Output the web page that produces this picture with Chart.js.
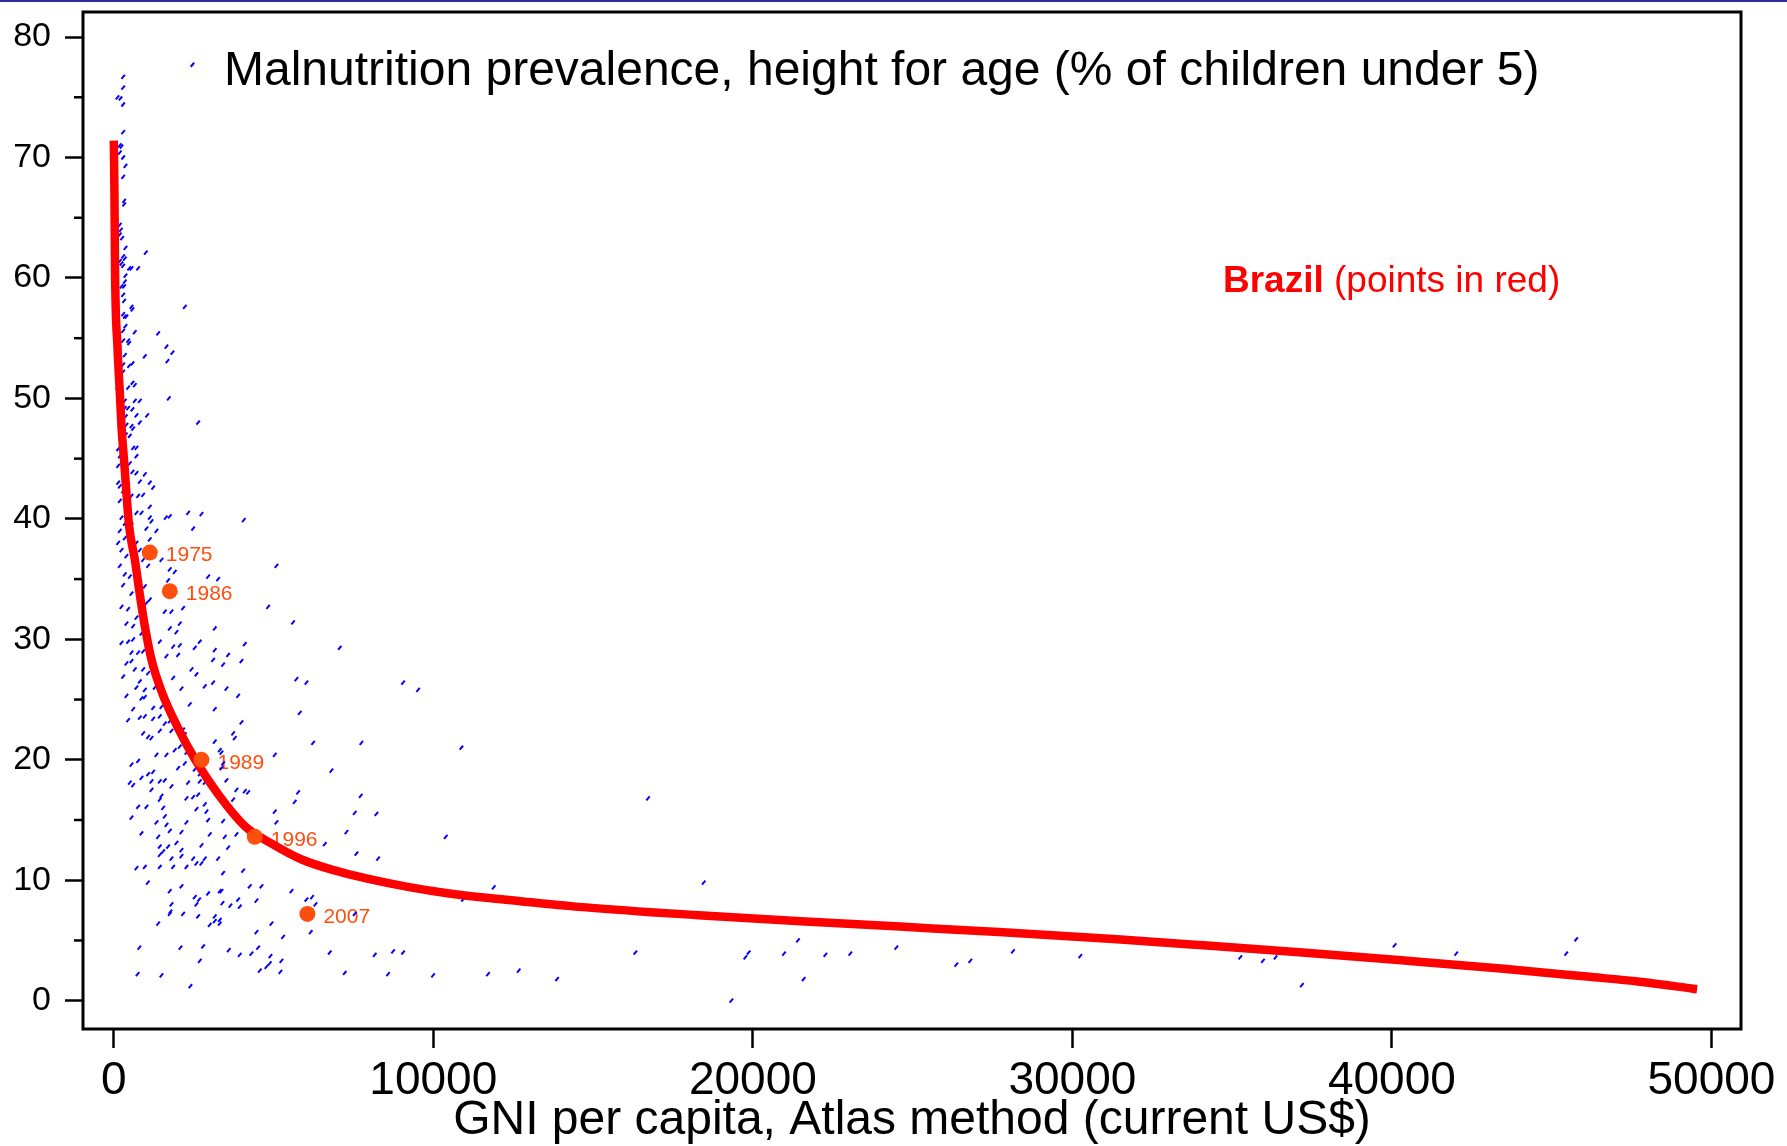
<!DOCTYPE html>
<html>
<head>
<meta charset="utf-8">
<script src="https://cdn.jsdelivr.net/npm/chart.js@4.4.1/dist/chart.umd.min.js"></script>
<style>
    html, body { margin: 0; padding: 0; background: #fff; }
    #wrap { position: relative; width: 1787px; height: 1146px; }
    #topline { position: absolute; left: 0; top: 0; width: 1787px; height: 2px; background: #2b2b9b; }
    canvas { display: block; }
</style>
</head>
<body>
<div id="wrap">
    <div id="topline"></div>
    <canvas id="grafico" width="1787" height="1146"></canvas>
</div>
<script>
// Eixos
const xTicks = [0, 10000, 20000, 30000, 40000, 50000];
const yTicks = [0, 10, 20, 30, 40, 50, 60, 70, 80];
const yMinorTicks = [5, 15, 25, 35, 45, 55, 65, 75];

// Pontos do Brasil (em vermelho)
const brazilYears = ['1975', '1986', '1989', '1996', '2007'];
const brazilGni = [1126, 1752, 2743, 4412, 6059];
const brazilStunting = [37.2, 34.0, 20.0, 13.6, 7.2];

// Curva ajustada
const fitGni = [0, 20, 40, 115, 190, 240, 320, 480, 660, 810, 970, 1180, 1520, 1980, 2550, 3250,
    4100, 4900, 5900, 7000, 7900, 9200, 10500, 12200, 14300, 16800, 18300, 21500, 24600, 27700,
    31400, 34100, 37200, 40300, 43500, 46100, 47750, 49550];
const fitStunting = [71.4, 67.1, 60.4, 54.3, 50.4, 47.7, 44.9, 39.4, 36.6, 33.8, 31.1, 28.3, 25.5, 22.8, 20.0, 17.2,
    14.5, 13.1, 11.7, 10.75, 10.15, 9.45, 8.9, 8.4, 7.85, 7.35, 7.1, 6.6, 6.15, 5.7,
    5.1, 4.6, 4.0, 3.35, 2.65, 2.0, 1.58, 0.95];

// Países (GNI, % desnutrição) - pontos azuis
const countryPoints = [
    [2461,77.7],[292,76.7],[292,75.8],[115,75.0],[209,74.9],[292,74.4],[292,72.1],[188,71.0],[240,70.9],[188,70.4],
    [292,70.0],[365,69.3],[292,68.4],[323,66.4],[323,66.1],[188,64.4],[219,64.0],[188,63.6],[261,63.3],[365,62.5],
    [1001,62.1],[292,61.8],[344,61.6],[188,61.4],[240,61.2],[292,61.0],[480,60.8],[553,60.8],[761,60.8],[365,60.2],
    [344,59.7],[240,59.3],[323,59.3],[292,58.6],[323,58.1],[553,57.6],[584,57.4],[2222,57.6],[292,57.0],[344,56.8],
    [396,56.8],[365,56.0],[292,55.6],[657,55.5],[1387,55.4],[292,54.8],[448,54.8],[480,54.6],[1648,54.3],[1836,53.8],
    [970,53.5],[344,53.6],[1679,53.1],[292,52.8],[480,52.7],[584,52.9],[292,52.2],[584,51.3],[657,51.1],[448,50.9],
    [115,50.9],[1721,50.0],[657,49.8],[814,49.8],[344,49.8],[344,49.2],[448,49.2],[584,49.1],[709,48.6],[1043,48.6],
    [375,48.5],[814,48.0],[396,47.8],[553,47.7],[2639,48.0],[605,47.5],[375,47.0],[501,46.9],[605,45.9],[709,45.9],
    [136,45.8],[709,45.2],[188,45.2],
    [501,44.6],[344,44.5],[136,44.4],[584,43.9],[709,43.8],[970,43.7],[1126,43.0],[814,43.1],[1231,42.6],
    [136,43.0],[188,42.7],[448,42.8],[292,42.3],[553,41.9],[761,41.9],[188,41.5],[918,42.0],[1126,41.0],
    [709,40.5],[866,40.5],[1126,40.1],[240,40.1],[344,39.6],[553,39.5],[1022,39.2],[1335,39.0],[1179,39.8],[1752,40.2],
    [2326,40.5],[2743,40.4],[2482,39.2],[4068,39.9],[1627,40.1],
    [188,39.0],[344,38.4],[553,38.6],[709,38.0],[1126,38.3],[136,38.0],[240,37.4],[396,36.9],
    [814,37.4],[605,36.9],[918,36.6],[1074,36.1],[1491,36.6],[188,36.1],[1752,35.8],[1909,35.6],[5090,36.1],
    [344,35.4],[501,35.2],[709,35.4],[292,34.5],[970,34.4],[1700,34.9],[2952,35.2],[3265,35.0],
    [553,33.8],[814,33.6],[1126,33.3],[1022,33.0],[240,32.7],[448,32.5],[1596,32.3],[1804,32.3],[2169,32.6],[4829,32.7],[5611,31.4],
    [709,31.8],[396,31.3],[605,31.1],[866,30.5],[1752,30.9],[1961,30.6],[2065,31.3],[3160,30.9],
    [240,29.7],[448,29.8],[605,30.0],[1439,29.8],[1857,29.4],[2065,29.5],[2691,29.8],[2534,29.3],[4099,29.6],[7072,29.3],
    [553,28.9],[761,28.9],[918,29.0],[1648,28.6],[2013,28.7],[3160,29.1],[3577,28.7],[3108,28.3],[3995,28.2],
    [396,28.0],[553,28.2],[657,27.5],[918,27.5],[292,26.9],[1074,27.2],[2430,27.5],[2587,27.1],[3421,27.9],
    [814,26.5],[709,26.0],[970,25.8],[1283,26.0],[1857,26.8],[2117,25.9],[2847,26.1],[3108,26.4],[3525,25.9],[5715,26.7],[6029,26.4],
    [396,25.3],[866,25.1],[970,25.2],[1491,25.4],[1231,24.3],[605,24.2],[1491,24.4],[2378,24.6],[3160,24.2],[3890,25.3],
    [448,23.3],[814,23.5],[970,23.6],[1231,23.4],[1439,23.6],[1596,23.0],[1752,23.2],[3995,23.1],[5820,23.9],
    [918,22.2],[1074,21.9],[1179,21.8],[1439,22.4],[1804,22.4],[2169,22.5],[2222,22.1],[3734,22.2],[3786,21.8],[3160,21.5],
    [2065,21.1],[1909,20.8],[2274,20.6],[3317,20.8],[3369,20.6],[5038,20.4],[6237,21.4],[7749,21.4],
    [553,19.6],[761,19.9],[1074,18.8],[1231,19.0],[1335,20.4],[1648,20.4],[2013,19.3],[2222,19.7],[2534,19.2],[2691,18.8],
    [3369,19.3],[3421,19.7],[6811,19.1],
    [501,18.1],[605,17.9],[866,18.5],[1179,18.2],[1439,18.2],[1596,18.3],[1804,17.8],[1179,17.5],[2326,18.1],[2691,18.2],
    [2847,18.1],[3525,18.3],[3838,17.5],[4099,17.4],[4203,17.3],[5768,17.3],
    [1439,16.7],[1491,17.0],[2274,16.8],[2482,16.9],[2639,17.1],[2847,16.3],[3734,16.7],[5663,16.5],
    [761,16.1],[1022,16.1],[1544,16.0],[2587,15.9],[2900,15.7],[5038,15.7],[7541,15.6],[8219,15.5],
    [553,15.2],[1335,14.8],[1596,15.3],[1648,14.6],[2274,14.8],[2952,15.0],[3421,14.9],[5090,14.8],
    [866,13.9],[1387,13.6],[1752,14.1],[2117,14.0],[3004,13.8],[3473,13.6],[3838,13.8],[7280,14.0],
    [1439,12.8],[1700,12.8],[1961,13.1],[1544,12.4],[2117,12.5],[2743,12.9],[3577,12.7],[6602,13.0],[7593,12.2],
    [1439,12.1],[1804,11.8],[2117,12.0],[2482,11.8],[2743,11.4],[2847,11.8],[3265,11.8],[8271,11.8],
    [709,11.0],[970,11.1],[1439,11.1],[1857,11.1],[2274,11.1],[2587,11.4],[3421,10.6],[4047,10.8],
    [1752,9.1],[2117,9.5],[2534,8.6],[2670,8.4],[2586,8.0],[2951,8.9],[3316,9.1],[3368,9.1],[3400,8.1],[3650,7.9],
    [3890,8.4],[3942,7.8],[4464,8.3],[4255,9.5],[4620,9.5],[5559,9.1],[6028,8.4],[6205,8.6],[6310,8.0],[1804,8.0],
    [1773,7.4],[1752,7.2],[2169,7.2],[2638,7.0],[3160,7.0],[3160,6.6],[3316,6.7],[3316,6.4],[3003,6.3],[1387,6.4],
    [4933,6.4],[4464,5.7],[5298,5.3],[6164,5.7],[7540,7.2],[2086,4.4],[2795,4.5],[2691,3.3],[3598,4.2],[3942,3.8],
    [4307,3.9],[4516,4.4],[4902,3.7],[4881,3.1],[4777,2.8],[5246,3.3],[5215,2.4],[4568,2.5],[6758,4.0],[8166,3.8],
    [8740,4.1],[9053,4.0],[1491,2.1],[2398,1.2],[7228,2.3],[8583,2.2],[9992,2.1],[11712,2.2],[12672,2.5],[13872,1.8],
    [16323,4.0],[16719,16.8],[10388,13.6],[11890,9.4],[10930,8.4],[7728,17.0],
    [9053,26.4],[9523,25.8],[10878,21.0],[18461,9.8],
    [19327,0.0],[19765,3.6],[19869,4.0],[20975,3.9],[21413,5.0],[21590,1.8],[22268,3.8],[23050,3.9],[24490,4.4],
    [26367,3.0],[26805,3.3],[28140,4.1],[30247,3.7],
    [34106,4.5],[35254,3.6],[35963,3.3],[36359,3.6],[37183,1.3],[40083,4.6],[42012,3.9],[45454,3.9],[45767,5.1],
    [1064,9.8],[798,4.4],[745,2.2]
];

const fonte = "'Liberation Sans', Arial, Helvetica, sans-serif";
Chart.defaults.font.family = fonte;
Chart.defaults.color = '#000';

const corBrasil = '#ff4f0f';

// Textos, moldura e marcas menores do eixo y
const textosPlugin = {
    id: 'textos',
    beforeDatasetsDraw(chart) {
        const ctx = chart.ctx;
        const meta = chart.getDatasetMeta(0);
        ctx.save();
        ctx.fillStyle = corBrasil;
        ctx.font = `21px ${fonte}`;
        ctx.textBaseline = 'middle';
        meta.data.forEach((el, i) => ctx.fillText(brazilYears[i], el.x + 16, el.y + 3));
        ctx.restore();
    },
    afterDraw(chart) {
        const { ctx, chartArea: a, scales: { y } } = chart;
        ctx.save();
        ctx.strokeStyle = '#000';
        ctx.lineWidth = 3;
        ctx.strokeRect(a.left, a.top, a.right - a.left, a.bottom - a.top);

        ctx.lineWidth = 2.5;
        yMinorTicks.forEach(v => {
            const p = y.getPixelForValue(v);
            ctx.beginPath();
            ctx.moveTo(a.left - 9, p);
            ctx.lineTo(a.left, p);
            ctx.stroke();
        });

        ctx.fillStyle = '#000';
        ctx.textBaseline = 'alphabetic';
        ctx.font = `48px ${fonte}`;
        ctx.fillText('Malnutrition prevalence, height for age (% of children under 5)', 224, 85);

        ctx.fillStyle = '#ff0000';
        ctx.font = `bold 37px ${fonte}`;
        ctx.fillText('Brazil', 1223, 292);
        const w = ctx.measureText('Brazil').width;
        ctx.font = `37px ${fonte}`;
        ctx.fillText(' (points in red)', 1223 + w, 292);
        ctx.restore();
    }
};

new Chart(document.getElementById('grafico'), {
    type: 'scatter',
    data: {
        datasets: [
            {
                label: 'Brazil',
                data: brazilGni.map((g, i) => ({ x: g, y: brazilStunting[i] })),
                pointRadius: 8,
                pointBackgroundColor: corBrasil,
                pointBorderWidth: 0,
                order: 0
            },
            {
                label: 'Fit',
                data: fitGni.map((g, i) => ({ x: g, y: fitStunting[i] })),
                showLine: true,
                borderColor: '#ff0000',
                borderWidth: 8.5,
                pointRadius: 0,
                cubicInterpolationMode: 'monotone',
                order: 1
            },
            {
                label: 'Countries',
                data: countryPoints.map(p => ({ x: p[0], y: p[1] })),
                pointStyle: 'line',
                rotation: -50,
                pointRadius: 2.6,
                pointBorderWidth: 2,
                pointBorderColor: '#0000ff',
                order: 2
            }
        ]
    },
    options: {
        responsive: false,
        animation: false,
        devicePixelRatio: 1,
        layout: { padding: { left: 0, right: 46, top: 12, bottom: 0 } },
        plugins: {
            legend: { display: false },
            tooltip: { enabled: false }
        },
        scales: {
            x: {
                type: 'linear',
                min: -964,
                max: 50925,
                afterBuildTicks: s => { s.ticks = xTicks.map(v => ({ value: v })); },
                afterFit: s => { s.height = 117; s.paddingLeft = 0; s.paddingRight = 0; },
                border: { display: false },
                grid: { drawOnChartArea: false, tickLength: 19, tickWidth: 2.5, tickColor: '#000' },
                ticks: { font: { size: 46 }, color: '#000', padding: 6, maxRotation: 0, autoSkip: false, callback: v => String(v) },
                title: { display: true, text: 'GNI per capita, Atlas method (current US$)', font: { size: 48, lineHeight: 1.05 }, color: '#000', padding: { top: 0, bottom: 0 } }
            },
            y: {
                min: -2.35,
                max: 82.08,
                afterBuildTicks: s => { s.ticks = yTicks.map(v => ({ value: v })); },
                afterFit: s => { s.width = 83; s.paddingTop = 0; s.paddingBottom = 0; },
                border: { display: false },
                grid: { drawOnChartArea: false, tickLength: 18, tickWidth: 2.5, tickColor: '#000' },
                ticks: { font: { size: 34 }, color: '#000', padding: 14, autoSkip: false, callback: v => String(v) }
            }
        }
    },
    plugins: [textosPlugin]
});
</script>
</body>
</html>
